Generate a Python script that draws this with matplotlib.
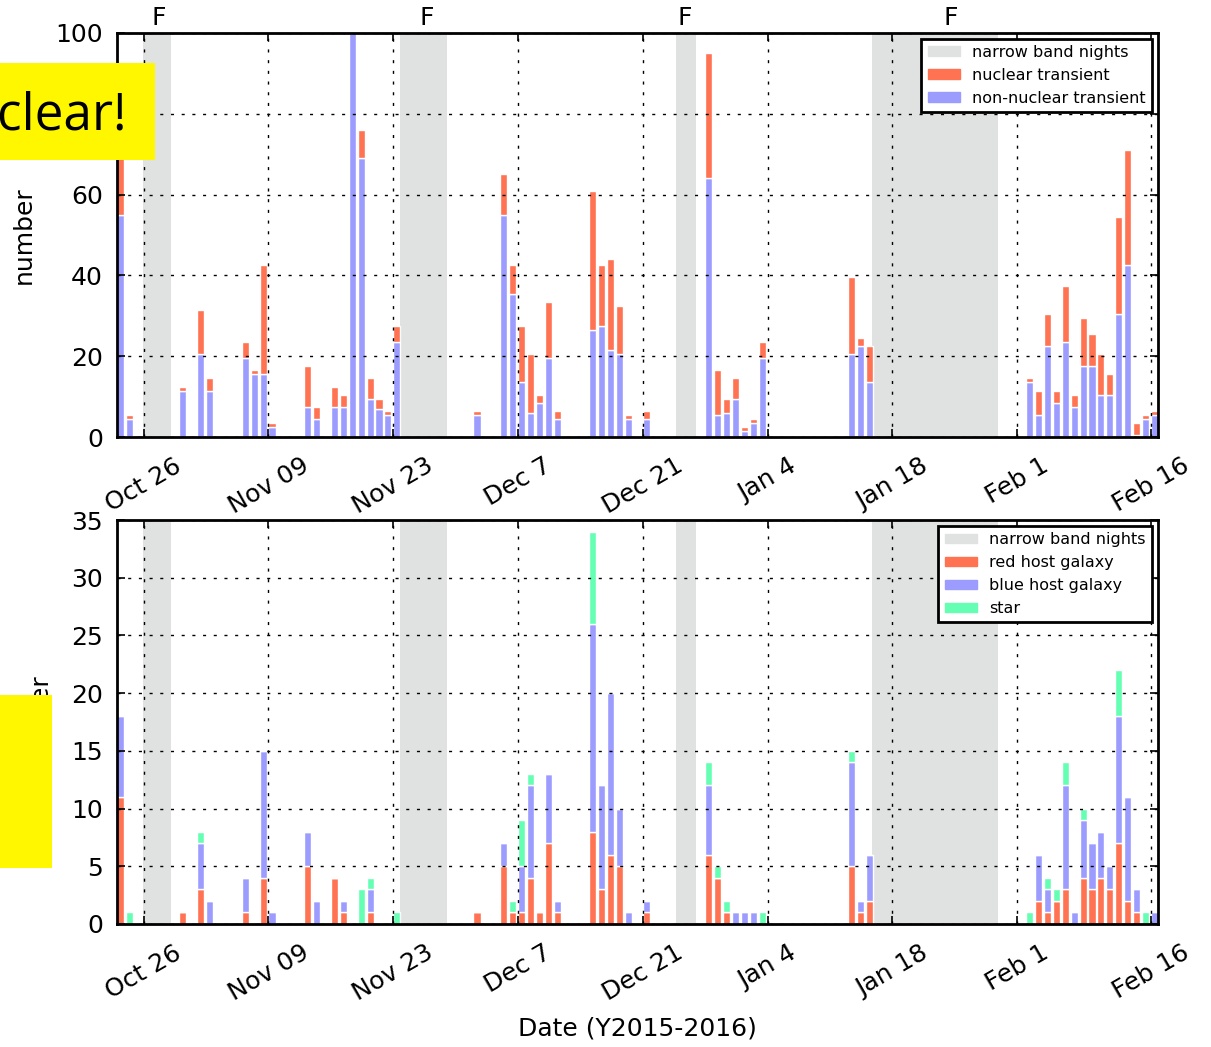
import datetime as dt
import matplotlib
matplotlib.use('Agg')
import matplotlib.pyplot as plt
import matplotlib.dates as mdates
from matplotlib.patches import Rectangle, Patch
import numpy as np

# ------------------------------------------------------------
# data (day offsets from 2015-10-23)
# ------------------------------------------------------------
start = dt.datetime(2015, 10, 23)

top_days = [0, 1, 2, 7, 8, 9, 10, 14, 15, 16, 17, 21, 22, 24, 25, 26, 27, 28, 29, 30, 31,
            40, 43, 44, 45, 46, 47, 48, 49, 53, 54, 55, 56, 57, 59,
            66, 67, 68, 69, 70, 71, 72, 82, 83, 84,
            102, 103, 104, 105, 106, 107, 108, 109, 110, 111, 112, 113, 114, 115, 116]
non_nuclear = [55, 4.5, 0, 11.5, 0, 20.5, 11.5, 19.5, 15.5, 15.5, 2.5, 7.5, 4.5, 7.5, 7.5, 100, 69, 9.5, 7, 5.5, 23.5,
               5.5, 55, 35.5, 13.5, 6, 8.5, 19.5, 4.5, 26.5, 27.5, 21.5, 20.5, 4.5, 4.5,
               64, 5.5, 6, 9.5, 1.5, 3.5, 19.5, 20.5, 22.5, 13.5,
               13.5, 5.5, 22.5, 8.5, 23.5, 7.5, 17.5, 17.5, 10.5, 10.5, 30.5, 42.5, 0.5, 4.5, 5.5]
nuclear = [20, 1, 0.5, 1, 0.5, 11, 3, 4, 1, 27, 1, 10, 3, 5, 3, 0, 7, 5, 2.5, 1, 4,
           1, 10, 7, 14, 14.5, 2, 14, 2, 34.5, 15, 22.5, 12, 1, 2,
           31, 11, 3.5, 5, 1, 1, 4, 19, 2, 9,
           1, 6, 8, 3, 14, 3, 12, 8, 10, 5, 24, 28.5, 3, 1, 1]

bot_days = [0, 1, 7, 9, 10, 14, 16, 17, 21, 22, 24, 25, 27, 28, 31,
            40, 43, 44, 45, 46, 47, 48, 49, 53, 54, 55, 56, 57, 59,
            66, 67, 68, 69, 70, 71, 72, 82, 83, 84,
            102, 103, 104, 105, 106, 107, 108, 109, 110, 111, 112, 113, 114, 115, 116]
red_host = [11, 0, 1, 3, 0, 1, 4, 0, 5, 0, 4, 1, 0, 1, 0,
            1, 5, 1, 1, 4, 1, 7, 1, 8, 3, 6, 5, 0, 1,
            6, 4, 1, 0, 0, 0, 0, 5, 1, 2,
            0, 2, 1, 2, 3, 0, 4, 3, 4, 3, 7, 2, 1, 0, 0]
blue_host = [7, 0, 0, 4, 2, 3, 11, 1, 3, 2, 0, 1, 0, 2, 0,
             0, 2, 0, 4, 8, 0, 6, 1, 18, 9, 14, 5, 1, 1,
             6, 0, 0, 1, 1, 1, 0, 9, 1, 4,
             0, 4, 2, 0, 9, 1, 5, 4, 4, 2, 11, 9, 2, 0, 1]
star = [0, 1, 0, 1, 0, 0, 0, 0, 0, 0, 0, 0, 3, 1, 1,
        0, 0, 1, 4, 1, 0, 0, 0, 8, 0, 0, 0, 0, 0,
        2, 1, 1, 0, 0, 0, 1, 1, 0, 0,
        1, 0, 1, 1, 2, 0, 1, 0, 0, 0, 4, 0, 0, 1, 0]

# narrow band nights (day offsets) and full moon markers
nb_start = [2.87, 31.75, 62.7, 84.7]
nb_end = [6.05, 37.0, 65.0, 98.9]
full_moon = [4.74, 34.8, 63.7, 93.6]

tick_dates = [dt.datetime(2015, 10, 26), dt.datetime(2015, 11, 9), dt.datetime(2015, 11, 23),
              dt.datetime(2015, 12, 7), dt.datetime(2015, 12, 21), dt.datetime(2016, 1, 4),
              dt.datetime(2016, 1, 18), dt.datetime(2016, 2, 1), dt.datetime(2016, 2, 16)]
tick_labels = ['Oct 26', 'Nov 09', 'Nov 23', 'Dec 7', 'Dec 21', 'Jan 4', 'Jan 18', 'Feb 1', 'Feb 16']

# ------------------------------------------------------------
# style
# ------------------------------------------------------------
RED = '#ff7252'
BLUE = '#9c9cff'
GREEN = '#64ffb2'
GRAY = '#e0e1e1'
BAR_W = 0.8
FS = 18

t0 = mdates.date2num(start)


def to_x(days):
    return t0 + np.asarray(days, dtype=float)


def style_axes(ax):
    for s in ax.spines.values():
        s.set_linewidth(2.0)
    ax.set_xlim(t0, t0 + 116 + BAR_W)
    ax.set_xticks(mdates.date2num(tick_dates))
    ax.set_xticklabels(tick_labels, rotation=30, ha='center', fontsize=FS)
    ax.tick_params(direction='in', length=6, width=1.2, top=True, right=True, labelsize=FS)
    ax.tick_params(axis='x', pad=12)
    ax.tick_params(axis='y', pad=10)
    ax.grid(True, color='black', linestyle=(0, (2.2, 5.5)), linewidth=1.0)
    ax.set_axisbelow(False)
    for a, b in zip(nb_start, nb_end):
        ax.axvspan(t0 + a, t0 + b, color=GRAY, lw=0, zorder=0)


fig = plt.figure(figsize=(12.11, 10.47), dpi=100)
ax1 = fig.add_axes([0.0966, 0.5826, 0.8596, 0.3859])
ax2 = fig.add_axes([0.0966, 0.1175, 0.8596, 0.3858])

# top panel
style_axes(ax1)
x = to_x(top_days)
ax1.bar(x, non_nuclear, width=BAR_W, align='edge', color=BLUE, edgecolor='white', linewidth=1, zorder=2)
ax1.bar(x, nuclear, bottom=non_nuclear, width=BAR_W, align='edge', color=RED, edgecolor='white',
        linewidth=1, zorder=2)
ax1.set_ylim(0, 100)
ax1.set_yticks([0, 20, 40, 60, 80, 100])
ax1.set_ylabel('number', fontsize=FS, labelpad=14)
for d in full_moon:
    ax1.text(t0 + d, 100.8, 'F', ha='center', va='bottom', fontsize=FS)
h1 = [Patch(color=GRAY), Patch(color=RED), Patch(color=BLUE)]
leg1 = ax1.legend(h1, ['narrow band nights', 'nuclear transient', 'non-nuclear transient'],
                  loc='upper right', fontsize=11.5, fancybox=False, borderaxespad=0.35,
                  handlelength=2.0, handleheight=0.55, framealpha=1)
leg1.get_frame().set_edgecolor('black')
leg1.get_frame().set_linewidth(2.0)

# bottom panel
style_axes(ax2)
x = to_x(bot_days)
red_host = np.array(red_host, dtype=float)
blue_host = np.array(blue_host, dtype=float)
star = np.array(star, dtype=float)
ax2.bar(x, red_host, width=BAR_W, align='edge', color=RED, edgecolor='white', linewidth=1, zorder=2)
ax2.bar(x, blue_host, bottom=red_host, width=BAR_W, align='edge', color=BLUE, edgecolor='white',
        linewidth=1, zorder=2)
ax2.bar(x, star, bottom=red_host + blue_host, width=BAR_W, align='edge', color=GREEN,
        edgecolor='white', linewidth=1, zorder=2)
ax2.set_ylim(0, 35)
ax2.set_yticks(range(0, 36, 5))
ax2.set_ylabel('number', fontsize=FS, labelpad=14)
ax2.set_xlabel('Date (Y2015-2016)', fontsize=FS, labelpad=8)
h2 = [Patch(color=GRAY), Patch(color=RED), Patch(color=BLUE), Patch(color=GREEN)]
leg2 = ax2.legend(h2, ['narrow band nights', 'red host galaxy', 'blue host galaxy', 'star'],
                  loc='upper right', fontsize=11.5, fancybox=False, borderaxespad=0.35,
                  handlelength=2.0, handleheight=0.55, framealpha=1)
leg2.get_frame().set_edgecolor('black')
leg2.get_frame().set_linewidth(2.0)

# yellow overlay boxes
fig.patches.append(Rectangle((0, 0.8472), 0.128, 0.0926, transform=fig.transFigure,
                             facecolor='#fff700', edgecolor='none', zorder=10))
fig.text(0.105, 0.889, 'nuclear!', ha='right', va='center', fontsize=37,
         family='Open Sans', zorder=11)
fig.patches.append(Rectangle((0, 0.1710), 0.0429, 0.1652, transform=fig.transFigure,
                             facecolor='#fff700', edgecolor='none', zorder=10))

fig.savefig('out.png', dpi=100)
